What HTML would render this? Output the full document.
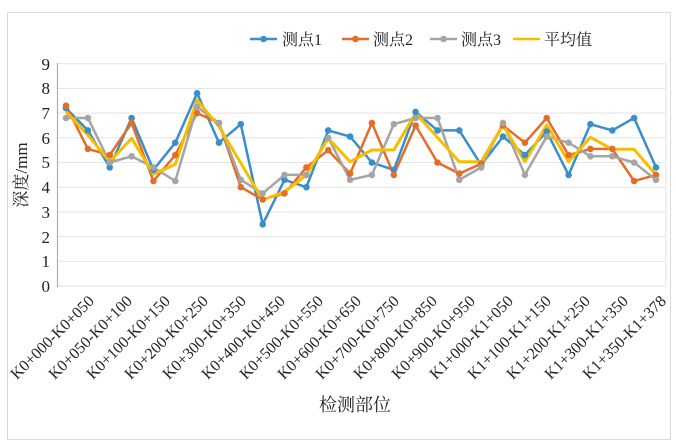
<!DOCTYPE html>
<html><head><meta charset="utf-8"><style>
html,body{margin:0;padding:0;background:#fff;}
svg{display:block;font-family:"Liberation Serif","Noto Serif CJK SC",serif;}
</style></head><body>
<svg width="676" height="447" viewBox="0 0 676 447" xmlns="http://www.w3.org/2000/svg">
<rect x="7.5" y="12.5" width="663" height="427" fill="#fff" stroke="#d9d9d9"/>
<g stroke="#e3e3e3" stroke-width="1">
<line x1="58" x2="666" y1="261.3" y2="261.3"/><line x1="58" x2="666" y1="236.6" y2="236.6"/>
<line x1="58" x2="666" y1="211.9" y2="211.9"/><line x1="58" x2="666" y1="187.2" y2="187.2"/>
<line x1="58" x2="666" y1="162.5" y2="162.5"/><line x1="58" x2="666" y1="137.8" y2="137.8"/>
<line x1="58" x2="666" y1="113.1" y2="113.1"/><line x1="58" x2="666" y1="88.4" y2="88.4"/>
<line x1="58" x2="666" y1="63.7" y2="63.7"/><line x1="58" x2="666" y1="286" y2="286"/>
<line x1="666" x2="666" y1="63.7" y2="286"/>
</g>
<line x1="57.5" x2="57.5" y1="63" y2="287" stroke="#8fb3d9" stroke-width="1.2"/>
<g font-size="17" fill="#222" text-anchor="end">
<text x="50" y="292">0</text><text x="50" y="267">1</text><text x="50" y="243">2</text>
<text x="50" y="218">3</text><text x="50" y="193">4</text><text x="50" y="168">5</text>
<text x="50" y="144">6</text><text x="50" y="119">7</text><text x="50" y="94">8</text>
<text x="50" y="70">9</text>
</g>
<text transform="translate(27,175) rotate(-90)" font-size="17" text-anchor="middle" fill="#222">深度/mm</text>
<g font-size="16" fill="#222" text-anchor="end">
<text transform="translate(95,302) rotate(-45)">K0+000-K0+050</text>
<text transform="translate(133,302) rotate(-45)">K0+050-K0+100</text>
<text transform="translate(171,302) rotate(-45)">K0+100-K0+150</text>
<text transform="translate(209,302) rotate(-45)">K0+200-K0+250</text>
<text transform="translate(247,302) rotate(-45)">K0+300-K0+350</text>
<text transform="translate(286,302) rotate(-45)">K0+400-K0+450</text>
<text transform="translate(324,302) rotate(-45)">K0+500-K0+550</text>
<text transform="translate(362,302) rotate(-45)">K0+600-K0+650</text>
<text transform="translate(400,302) rotate(-45)">K0+700-K0+750</text>
<text transform="translate(438,302) rotate(-45)">K0+800-K0+850</text>
<text transform="translate(476,302) rotate(-45)">K0+900-K0+950</text>
<text transform="translate(514,302) rotate(-45)">K1+000-K1+050</text>
<text transform="translate(552,302) rotate(-45)">K1+100-K1+150</text>
<text transform="translate(591,302) rotate(-45)">K1+200-K1+250</text>
<text transform="translate(629,302) rotate(-45)">K1+300-K1+350</text>
<text transform="translate(667,302) rotate(-45)">K1+350-K1+378</text>
</g>
<text x="355" y="411" font-size="18" text-anchor="middle" fill="#222">检测部位</text>
<g font-size="16" fill="#222">
<line x1="250" x2="277" y1="39" y2="39" stroke="#3a8fc9" stroke-width="2.5"/><circle cx="263.5" cy="39" r="3.3" fill="#3a8fc9"/>
<text x="282" y="45">测点1</text>
<line x1="342" x2="369" y1="39" y2="39" stroke="#e46d2a" stroke-width="2.5"/><circle cx="355.5" cy="39" r="3.3" fill="#e46d2a"/>
<text x="373" y="45">测点2</text>
<line x1="430" x2="457" y1="39" y2="39" stroke="#a5a5a5" stroke-width="2.5"/><circle cx="443.5" cy="39" r="3.3" fill="#a5a5a5"/>
<text x="461" y="45">测点3</text>
<line x1="513" x2="540" y1="39" y2="39" stroke="#f5be00" stroke-width="2.5"/>
<text x="544" y="45">平均值</text>
</g>
<g fill="none" stroke-width="2.5" stroke-linejoin="round">
<polyline stroke="#3a8fc9" points="66,108.2 87.9,130.4 109.7,167.4 131.6,118 153.4,169.9 175.3,142.7 197.1,93.3 219,142.7 240.8,124.2 262.7,224.3 284.5,179.8 306.4,187.2 328.2,130.4 350.1,136.6 371.9,162.5 393.8,169.9 415.6,111.9 437.5,130.4 459.3,130.4 481.2,165 503,136.6 524.9,155.1 546.7,131.6 568.6,174.9 590.4,124.2 612.3,130.4 634.1,118 656,167.4"/>
<polyline stroke="#e46d2a" points="66,105.7 87.9,148.9 109.7,155.1 131.6,123 153.4,181 175.3,155.1 197.1,113.1 219,123 240.8,187.2 262.7,199.5 284.5,193.4 306.4,167.4 328.2,150.2 350.1,173.6 371.9,123 393.8,174.9 415.6,125.5 437.5,162.5 459.3,173.6 481.2,163.7 503,125.5 524.9,142.7 546.7,118 568.6,155.1 590.4,148.9 612.3,148.9 634.1,181 656,174.9"/>
<polyline stroke="#a5a5a5" points="66,118 87.9,118 109.7,162.5 131.6,156.3 153.4,167.4 175.3,181 197.1,106.9 219,123 240.8,179.8 262.7,193.4 284.5,174.9 306.4,174.9 328.2,137.8 350.1,179.8 371.9,174.9 393.8,124.2 415.6,118 437.5,118 459.3,179.8 481.2,167.4 503,123 524.9,174.9 546.7,136.6 568.6,142.7 590.4,156.3 612.3,156.3 634.1,162.5 656,179.8"/>
<polyline stroke="#f5be00" stroke-width="3" points="66,111.7 87.9,135 109.7,161.7 131.6,138.3 153.4,174.3 175.3,164.3 197.1,100 219,126.7 240.8,163 262.7,200 284.5,191.7 306.4,175 328.2,138.3 350.1,161.7 371.9,150 393.8,150 415.6,113.3 437.5,137.5 459.3,161.7 481.2,161.7 503,125 524.9,161.7 546.7,125 568.6,161.7 590.4,137.3 612.3,149.3 634.1,149.3 656,175"/>
</g>
<g fill="#3a8fc9">
<circle cx="66" cy="108.2" r="3.3"/><circle cx="87.9" cy="130.4" r="3.3"/><circle cx="109.7" cy="167.4" r="3.3"/><circle cx="131.6" cy="118" r="3.3"/><circle cx="153.4" cy="169.9" r="3.3"/><circle cx="175.3" cy="142.7" r="3.3"/><circle cx="197.1" cy="93.3" r="3.3"/><circle cx="219" cy="142.7" r="3.3"/><circle cx="240.8" cy="124.2" r="3.3"/><circle cx="262.7" cy="224.3" r="3.3"/><circle cx="284.5" cy="179.8" r="3.3"/><circle cx="306.4" cy="187.2" r="3.3"/><circle cx="328.2" cy="130.4" r="3.3"/><circle cx="350.1" cy="136.6" r="3.3"/><circle cx="371.9" cy="162.5" r="3.3"/><circle cx="393.8" cy="169.9" r="3.3"/><circle cx="415.6" cy="111.9" r="3.3"/><circle cx="437.5" cy="130.4" r="3.3"/><circle cx="459.3" cy="130.4" r="3.3"/><circle cx="481.2" cy="165" r="3.3"/><circle cx="503" cy="136.6" r="3.3"/><circle cx="524.9" cy="155.1" r="3.3"/><circle cx="546.7" cy="131.6" r="3.3"/><circle cx="568.6" cy="174.9" r="3.3"/><circle cx="590.4" cy="124.2" r="3.3"/><circle cx="612.3" cy="130.4" r="3.3"/><circle cx="634.1" cy="118" r="3.3"/><circle cx="656" cy="167.4" r="3.3"/>
</g>
<g fill="#e46d2a">
<circle cx="66" cy="105.7" r="3.3"/><circle cx="87.9" cy="148.9" r="3.3"/><circle cx="109.7" cy="155.1" r="3.3"/><circle cx="131.6" cy="123" r="3.3"/><circle cx="153.4" cy="181" r="3.3"/><circle cx="175.3" cy="155.1" r="3.3"/><circle cx="197.1" cy="113.1" r="3.3"/><circle cx="219" cy="123" r="3.3"/><circle cx="240.8" cy="187.2" r="3.3"/><circle cx="262.7" cy="199.5" r="3.3"/><circle cx="284.5" cy="193.4" r="3.3"/><circle cx="306.4" cy="167.4" r="3.3"/><circle cx="328.2" cy="150.2" r="3.3"/><circle cx="350.1" cy="173.6" r="3.3"/><circle cx="371.9" cy="123" r="3.3"/><circle cx="393.8" cy="174.9" r="3.3"/><circle cx="415.6" cy="125.5" r="3.3"/><circle cx="437.5" cy="162.5" r="3.3"/><circle cx="459.3" cy="173.6" r="3.3"/><circle cx="481.2" cy="163.7" r="3.3"/><circle cx="503" cy="125.5" r="3.3"/><circle cx="524.9" cy="142.7" r="3.3"/><circle cx="546.7" cy="118" r="3.3"/><circle cx="568.6" cy="155.1" r="3.3"/><circle cx="590.4" cy="148.9" r="3.3"/><circle cx="612.3" cy="148.9" r="3.3"/><circle cx="634.1" cy="181" r="3.3"/><circle cx="656" cy="174.9" r="3.3"/>
</g>
<g fill="#a5a5a5">
<circle cx="66" cy="118" r="3.3"/><circle cx="87.9" cy="118" r="3.3"/><circle cx="109.7" cy="162.5" r="3.3"/><circle cx="131.6" cy="156.3" r="3.3"/><circle cx="153.4" cy="167.4" r="3.3"/><circle cx="175.3" cy="181" r="3.3"/><circle cx="197.1" cy="106.9" r="3.3"/><circle cx="219" cy="123" r="3.3"/><circle cx="240.8" cy="179.8" r="3.3"/><circle cx="262.7" cy="193.4" r="3.3"/><circle cx="284.5" cy="174.9" r="3.3"/><circle cx="306.4" cy="174.9" r="3.3"/><circle cx="328.2" cy="137.8" r="3.3"/><circle cx="350.1" cy="179.8" r="3.3"/><circle cx="371.9" cy="174.9" r="3.3"/><circle cx="393.8" cy="124.2" r="3.3"/><circle cx="415.6" cy="118" r="3.3"/><circle cx="437.5" cy="118" r="3.3"/><circle cx="459.3" cy="179.8" r="3.3"/><circle cx="481.2" cy="167.4" r="3.3"/><circle cx="503" cy="123" r="3.3"/><circle cx="524.9" cy="174.9" r="3.3"/><circle cx="546.7" cy="136.6" r="3.3"/><circle cx="568.6" cy="142.7" r="3.3"/><circle cx="590.4" cy="156.3" r="3.3"/><circle cx="612.3" cy="156.3" r="3.3"/><circle cx="634.1" cy="162.5" r="3.3"/><circle cx="656" cy="179.8" r="3.3"/>
</g>
</svg>
</body></html>
